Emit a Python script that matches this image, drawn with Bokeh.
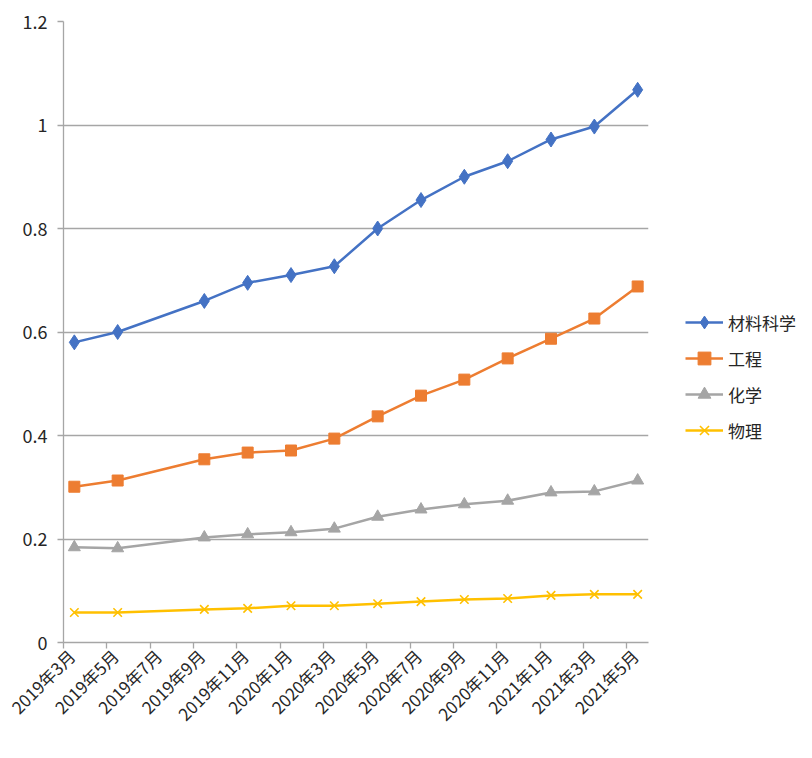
from bokeh.plotting import figure
from bokeh.layouts import row
from bokeh.models import FixedTicker, CustomJSTickFormatter, Legend, LegendItem, Range1d
from bokeh.embed import file_html
from bokeh.resources import INLINE

# data
dates = ["2019-03", "2019-05", "2019-09", "2019-11", "2020-01", "2020-03", "2020-05",
         "2020-07", "2020-09", "2020-11", "2021-01", "2021-03", "2021-05"]
materials = [0.58, 0.60, 0.66, 0.695, 0.71, 0.727, 0.80, 0.855, 0.90, 0.93, 0.972, 0.997, 1.068]
engineering = [0.301, 0.313, 0.354, 0.367, 0.371, 0.394, 0.437, 0.477, 0.508, 0.549, 0.587, 0.626, 0.688]
chemistry = [0.184, 0.182, 0.203, 0.209, 0.213, 0.220, 0.243, 0.257, 0.267, 0.274, 0.290, 0.292, 0.313]
physics = [0.058, 0.058, 0.064, 0.066, 0.071, 0.071, 0.075, 0.079, 0.083, 0.085, 0.091, 0.093, 0.093]
tick_labels = ["2019年3月", "2019年5月", "2019年7月", "2019年9月", "2019年11月", "2020年1月",
               "2020年3月", "2020年5月", "2020年7月", "2020年9月", "2020年11月", "2021年1月",
               "2021年3月", "2021年5月"]
series_names = ["材料科学", "工程", "化学", "物理"]
y_ticks = [0, 0.2, 0.4, 0.6, 0.8, 1.0, 1.2]

start_y, start_m = 2019, 3


def month_index(s):
    y, m = s.split("-")
    return (int(y) - start_y) * 12 + (int(m) - start_m)


def label_index(s):
    y = s.split("年")[0]
    m = s.split("年")[1].rstrip("月")
    return (int(y) - start_y) * 12 + (int(m) - start_m)


xs = [month_index(d) + 0.5 for d in dates]
tick_pos = [label_index(t) for t in tick_labels]
n_months = month_index(dates[-1]) + 1

FONT = "Noto Sans CJK SC"
TEXT = "#262626"
GRID = "#a6a6a6"
LABEL_SHIFT = 0.37  # horizontal nudge of rotated labels (in months), as in the reference

p = figure(width=652, height=742, output_backend="svg", toolbar_location=None,
           x_range=Range1d(0, n_months), y_range=Range1d(0, 1.2),
           min_border_left=63, min_border_right=4, min_border_top=21, min_border_bottom=100)
p.outline_line_color = None
p.background_fill_color = "white"

# x axis: visible tick marks are drawn as "minor" ticks at the month boundaries,
# the (invisible) major ticks carry the rotated labels, nudged like in the reference
label_ticks = [t + LABEL_SHIFT for t in tick_pos]
p.xaxis.ticker = FixedTicker(ticks=label_ticks, minor_ticks=tick_pos)
p.xaxis.major_label_overrides = {lt: lab for lt, lab in zip(label_ticks, tick_labels)}
p.xaxis.major_label_orientation = 0.785398
p.xaxis.major_tick_line_color = None
p.xaxis.major_tick_in = 0
p.xaxis.major_tick_out = 6
p.xaxis.minor_tick_line_color = GRID
p.xaxis.minor_tick_line_width = 1.3
p.xaxis.minor_tick_in = 0
p.xaxis.minor_tick_out = 6
p.xaxis.major_label_standoff = 4
p.xaxis.major_label_text_font_size = "17px"

p.yaxis.ticker = FixedTicker(ticks=y_ticks)
p.yaxis.formatter = CustomJSTickFormatter(code="return tick.toFixed(1).replace(/\\.0$/, '');")
p.yaxis.major_tick_line_color = GRID
p.yaxis.major_tick_line_width = 1.3
p.yaxis.major_tick_in = 0
p.yaxis.major_tick_out = 6
p.yaxis.minor_tick_line_color = None
p.yaxis.major_label_text_font_size = "18px"
p.yaxis.major_label_standoff = 10

for ax in (p.xaxis[0], p.yaxis[0]):
    ax.axis_line_color = GRID
    ax.axis_line_width = 1.3
    ax.major_label_text_font = FONT
    ax.major_label_text_color = TEXT

p.xgrid.grid_line_color = None
p.ygrid.ticker = FixedTicker(ticks=y_ticks)
p.ygrid.grid_line_color = GRID
p.ygrid.grid_line_width = 1.3

specs = [
    (materials, "#4472C4", "diamond", 15, 2.5),
    (engineering, "#ED7D31", "square", 11, 2.5),
    (chemistry, "#A5A5A5", "triangle", 12, 2.5),
    (physics, "#FFC000", "x", 12, 2.5),
]

# legend figure to the right of the plot (its renderers are hidden copies of the series)
lf = figure(width=144, height=742, output_backend="svg", toolbar_location=None,
            x_range=Range1d(0, 1), y_range=Range1d(0, 1),
            min_border_left=0, min_border_right=0, min_border_top=0, min_border_bottom=0)
lf.axis.visible = False
lf.grid.visible = False
lf.outline_line_color = None

items = []
for (vals, col, mk, sz, lw), name in zip(specs, series_names):
    p.line(xs, vals, line_color=col, line_width=lw)
    if mk == "x":
        p.scatter(xs, vals, marker=mk, size=sz, line_color=col, line_width=1.6)
        d2 = lf.scatter(xs, vals, marker=mk, size=sz, line_color=col, line_width=1.6, visible=False)
    else:
        p.scatter(xs, vals, marker=mk, size=sz, fill_color=col, line_color=col)
        d2 = lf.scatter(xs, vals, marker=mk, size=sz, fill_color=col, line_color=col, visible=False)
    d1 = lf.line(xs, vals, line_color=col, line_width=lw, visible=False)
    items.append(LegendItem(label=name, renderers=[d1, d2]))

legend = Legend(items=items, location=(33, 196), orientation="vertical",
                glyph_width=38, glyph_height=32, label_height=20, spacing=4,
                label_standoff=5, padding=0, margin=0, border_line_color=None,
                background_fill_alpha=0, label_text_font=FONT, label_text_color=TEXT,
                label_text_font_size="17px")
lf.add_layout(legend, "center")

layout = row(p, lf, spacing=0)
open("out.html", "w").write(file_html(layout, INLINE))
